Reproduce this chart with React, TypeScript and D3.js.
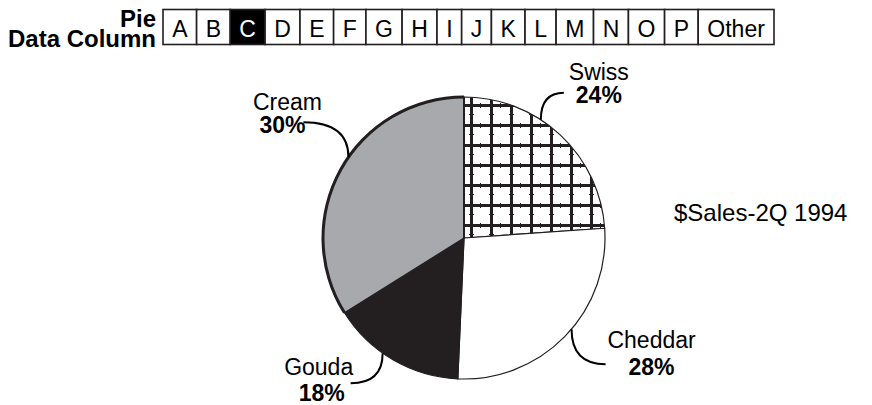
import React, { useRef, useEffect } from "react";
import { select, pie, arc } from "d3";

// Cheese sales pie, with the data-column picker above it

const categories = ["Swiss", "Cheddar", "Gouda", "Cream"];
const sliceShares = [23.9, 26.8, 15.4, 33.9];
const labelPercents = [24, 28, 18, 30]; // printed on the labels
const columnLetters = ["A", "B", "C", "D", "E", "F", "G", "H", "I", "J", "K", "L", "M", "N", "O", "P", "Other"];
const selectedColumn = "C";
const headerLines = ["Pie", "Data Column"];
const chartTitle = "$Sales-2Q 1994";

const width = 872,
    height = 405,
    font = "'Liberation Sans', Arial, Helvetica, sans-serif",
    ink = "#231f20";

const cx = 464, cy = 238, radius = 141;

const fills: Record<string, string> = {
    Swiss: "url(#grid)",
    Cheddar: "#ffffff",
    Gouda: ink,
    Cream: "#a7a9ac",
};

// leader angle tweak (deg from slice middle), leader end offset, text offset from leader end
const labelLayout: Record<string, { tweak: number; end: [number, number]; text: [number, number]; pct: [number, number] }> = {
    Swiss: { tweak: -10, end: [23, -27], text: [35, -13], pct: [35, 10] },
    Cheddar: { tweak: -4, end: [34, 35], text: [46, -16], pct: [46, 11] },
    Gouda: { tweak: 5, end: [-32, 30], text: [-32, -8], pct: [-29, 18] },
    Cream: { tweak: 6, end: [-45, -35], text: [-16, -12], pct: [-21, 11] },
};

export default function App() {
    const svgRef = useRef<SVGSVGElement>(null);

    useEffect(() => {
        const svg = select(svgRef.current);
        svg.selectAll("*").remove();

        // hatch pattern for Swiss: heavy lines on whole pixels
        const step = 20;
        const pat = svg.append("defs").append("pattern")
            .attr("id", "grid")
            .attr("patternUnits", "userSpaceOnUse")
            .attr("x", 464)
            .attr("y", 104)
            .attr("width", step)
            .attr("height", step);
        pat.append("rect").attr("width", step).attr("height", step).attr("fill", "#fff");
        pat.append("rect").attr("x", 2).attr("y", 0).attr("width", 3).attr("height", step).attr("fill", ink);
        pat.append("rect").attr("x", 0).attr("y", 2).attr("width", step).attr("height", 3).attr("fill", ink);
        pat.append("rect").attr("x", 12).attr("y", 1).attr("width", 1).attr("height", 5).attr("fill", ink);
        pat.append("rect").attr("x", 1).attr("y", 12).attr("width", 5).attr("height", 1).attr("fill", ink);

        // header: title lines
        const head = svg.append("g").attr("font-family", font).attr("fill", "#000");
        head.selectAll("text.hl")
            .data(headerLines)
            .join("text")
            .attr("class", "hl")
            .attr("x", 156)
            .attr("y", (d, i) => 27 + i * 20)
            .attr("text-anchor", "end")
            .attr("font-weight", "bold")
            .attr("font-size", 24)
            .text(d => d);

        // header: column boxes, width from text
        const x0 = 163, x1 = 774, boxTop = 9.5, boxH = 35;
        const probe = head.append("g");
        const widths = columnLetters.map(c => {
            const t = probe.append("text").attr("font-size", 23).text(c);
            return (t.node() as SVGTextElement).getComputedTextLength();
        });
        probe.remove();
        const pad = (x1 - x0 - widths.reduce((a, b) => a + b, 0)) / columnLetters.length;
        let xs = x0;
        const boxes = columnLetters.map((c, i) => {
            const b = { c, x: xs, w: widths[i] + pad };
            xs += b.w;
            return b;
        });
        const cell = head.selectAll("g.cell").data(boxes).join("g").attr("class", "cell");
        cell.append("rect")
            .attr("x", d => d.x)
            .attr("y", boxTop)
            .attr("width", d => d.w)
            .attr("height", boxH)
            .attr("fill", d => d.c === selectedColumn ? "#000" : "#fff")
            .attr("stroke", ink)
            .attr("stroke-width", 1.6);
        cell.append("text")
            .attr("x", d => d.x + d.w / 2)
            .attr("y", boxTop + 27)
            .attr("text-anchor", "middle")
            .attr("font-size", 23)
            .attr("fill", d => d.c === selectedColumn ? "#fff" : "#000")
            .text(d => d.c);

        // pie
        const slices = pie<number>().sort(null).value(d => d)(sliceShares);
        const arcGen = arc<any>().innerRadius(0).outerRadius(radius);

        svg.append("g")
            .selectAll("path.slice")
            .data(slices)
            .join("path")
            .attr("class", "slice")
            .attr("d", d => arcGen(d) as string)
            .attr("transform", `translate(${cx},${cy})`)
            .attr("fill", (d, i) => fills[categories[i]])
            .attr("stroke", ink)
            .attr("stroke-width", 1.2)
            .attr("stroke-linejoin", "round");

        const g = svg.append("g").attr("transform", `translate(${cx},${cy})`);

        // heavy rim on the Cream slice
        const creamIdx = categories.indexOf("Cream");
        g.append("path")
            .attr("d", arc<any>().innerRadius(radius - 1.5).outerRadius(radius + 1.5)(slices[creamIdx]) as string)
            .attr("fill", ink);
        // separator between Cream and Swiss
        g.append("line")
            .attr("x1", 0).attr("y1", 0).attr("x2", 0).attr("y2", -radius)
            .attr("stroke", ink)
            .attr("stroke-width", 2);

        // labels with curved leaders
        const lab = g.append("g").attr("font-family", font).attr("fill", "#000");
        slices.forEach((s, i) => {
            const name = categories[i];
            const L = labelLayout[name];
            const a = (s.startAngle + s.endAngle) / 2 + (L.tweak * Math.PI) / 180;
            const px = radius * Math.sin(a), py = -radius * Math.cos(a);
            const ex = px + L.end[0], ey = py + L.end[1];
            lab.append("path")
                .attr("d", `M${ex},${ey} Q${px},${ey} ${px},${py}`)
                .attr("fill", "none")
                .attr("stroke", "#000")
                .attr("stroke-width", 2);
            lab.append("text")
                .attr("x", ex + L.text[0])
                .attr("y", ey + L.text[1])
                .attr("text-anchor", "middle")
                .attr("font-size", 23)
                .text(name);
            lab.append("text")
                .attr("x", ex + L.pct[0])
                .attr("y", ey + L.pct[1])
                .attr("text-anchor", "middle")
                .attr("font-size", 23)
                .attr("font-weight", "bold")
                .text(`${labelPercents[i]}%`);
        });

        // chart title
        svg.append("text")
            .attr("x", 674)
            .attr("y", 221)
            .attr("font-family", font)
            .attr("font-size", 24)
            .text(chartTitle);

        return () => {
            svg.selectAll("*").remove();
        };
    }, []);

    return (
        <svg ref={svgRef} width={width} height={height}
            style={{ position: "absolute", left: 0, top: 0, background: "#fff" }}>
        </svg>
    );
}
